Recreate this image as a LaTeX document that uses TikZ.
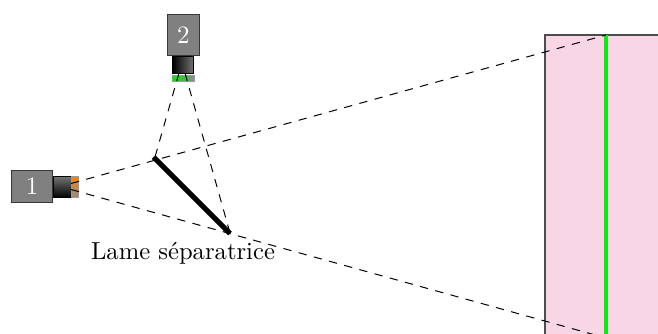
\documentclass[tikz,border=0pt]{standalone}
\definecolor{screenpink}{RGB}{248,214,230}
\definecolor{beamgreen}{RGB}{10,235,20}
\begin{document}
\begin{tikzpicture}[x=0.4pt,y=-0.4pt,
  bodybox/.style={draw=black!78,line width=0.5pt,fill=black!50,text=white,inner sep=0pt,anchor=north west},
  lensbox/.style={draw=black,line width=0.4pt,inner sep=0pt,anchor=north west},
  filterbox/.style={inner sep=0pt,anchor=north west,draw=black!40,line width=0.3pt},
  ray/.style={line width=0.4pt,dash pattern=on 3.3pt off 3pt},
  mirror/.style={line width=2pt}]
\useasboundingbox (0,0) rectangle (658,333);
\begin{scope}
\clip (0,0) rectangle (658,333);
\draw[line width=0.5pt,draw=black!70,fill=screenpink] (545,35) rectangle (670,345);
\draw[line width=1.3pt,draw=beamgreen] (606,35) -- (606,345);
\coordinate (s1) at (71,183.5);
\coordinate (s2) at (71,189.5);
\coordinate (c1) at (179,73);
\coordinate (c2) at (185,73);
\coordinate (mA) at (153.5,157);
\coordinate (mB) at (230,233.5);
\coordinate (e1) at (606,35);
\coordinate (e2) at (606,338);
\coordinate (h1) at (154,160.5);
\coordinate (h2) at (230,233);
% camera 1
\node[bodybox,minimum width=16.4pt,minimum height=12.8pt] (cam1) at (11,170) {1};
\node[lensbox,minimum width=7pt,minimum height=8.4pt,top color=black!55,bottom color=black] (lens1) at (53,176) {};
\node[filterbox,minimum width=2.6pt,minimum height=8.4pt,top color=orange,bottom color=black!45] (filt1) at (71,176) {};
% camera 2
\node[bodybox,minimum width=12.6pt,minimum height=16.4pt] (cam2) at (167,14) {2};
\node[lensbox,minimum width=8.4pt,minimum height=6.8pt,left color=black,right color=black!55] (lens2) at (172,56) {};
\node[filterbox,minimum width=8.6pt,minimum height=2.3pt,left color=green!90!black,middle color=green!70!black,right color=black!45] (filt2) at (172,75) {};
\draw[ray] (s1) -- (e1);
\draw[ray] (s2) -- (e2);
\draw[ray] (c1) -- (h1);
\draw[ray] (c2) -- (h2);
\draw[mirror] (mA) -- (mB);
\end{scope}
\node[inner sep=0pt,scale=0.985] (lbl) at (183,253) {Lame séparatrice};
\end{tikzpicture}
\end{document}
